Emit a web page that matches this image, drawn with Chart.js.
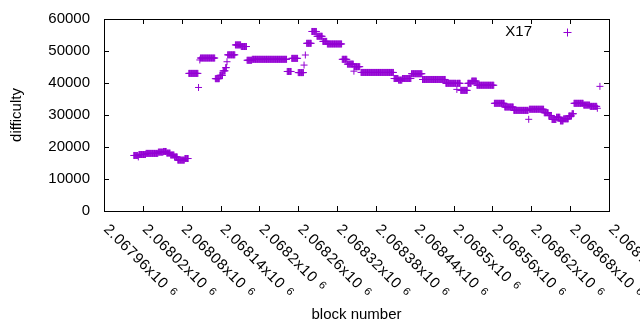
<!DOCTYPE html>
<html>
<head>
<meta charset="utf-8">
<script src="https://cdn.jsdelivr.net/npm/chart.js@4/dist/chart.umd.min.js"></script>
<style>
  html, body { margin: 0; padding: 0; background: #fff; }
</style>
</head>
<body>
<canvas id="chart" width="640" height="330"></canvas>
<script>
const runStart = [2068006, 2068013, 2068014, 2068025, 2068044, 2068052, 2068057, 2068063, 2068069, 2068074,
    2068085, 2068091, 2068106, 2068108, 2068109, 2068132, 2068139, 2068144, 2068148, 2068150,
    2068151, 2068163, 2068172, 2068181, 2068189, 2068243, 2068250, 2068260, 2068269, 2068271,
    2068273, 2068281, 2068289, 2068298, 2068305, 2068328, 2068336, 2068346, 2068347, 2068357,
    2068408, 2068415, 2068421, 2068435, 2068452, 2068488, 2068505, 2068506, 2068511, 2068522,
    2068528, 2068536, 2068563, 2068579, 2068593, 2068616, 2068617, 2068640, 2068647, 2068652,
    2068659, 2068665, 2068670, 2068678, 2068683, 2068686, 2068701, 2068711, 2068722, 2068726];
const runEnd = [2068012, 2068013, 2068024, 2068043, 2068051, 2068056, 2068062, 2068068, 2068073, 2068084,
    2068090, 2068105, 2068106, 2068108, 2068131, 2068138, 2068143, 2068147, 2068149, 2068150,
    2068162, 2068171, 2068180, 2068188, 2068242, 2068249, 2068259, 2068268, 2068269, 2068271,
    2068280, 2068288, 2068297, 2068304, 2068327, 2068335, 2068345, 2068346, 2068355, 2068407,
    2068414, 2068420, 2068434, 2068451, 2068487, 2068504, 2068505, 2068510, 2068521, 2068527,
    2068535, 2068562, 2068578, 2068592, 2068615, 2068616, 2068639, 2068646, 2068651, 2068658,
    2068664, 2068669, 2068677, 2068682, 2068685, 2068700, 2068710, 2068721, 2068722, 2068726];
const runValue = [17350, 16900, 17650, 18000, 18400, 18600, 18100, 17500, 16900, 15900,
    16400, 43000, 38600, 47200, 47800, 41350, 42400, 43800, 44800, 46650,
    48800, 51900, 51400, 47100, 47400, 43600, 47700, 43250, 45600, 48750,
    52400, 56100, 54600, 53000, 52200, 47400, 45900, 43700, 45100, 43300,
    41400, 40900, 41400, 42900, 41100, 39900, 38000, 39900, 37700, 39900,
    40600, 39300, 33650, 32500, 31450, 28650, 31800, 30700, 29850, 28600,
    29300, 28150, 28800, 29700, 30400, 33650, 33100, 32700, 32100, 38950];

const xTicks = [2067960, 2068020, 2068080, 2068140, 2068200, 2068260, 2068320,
    2068380, 2068440, 2068500, 2068560, 2068620, 2068680, 2068740];
const xTickLabels = ['2.06796', '2.06802', '2.06808', '2.06814', '2.0682', '2.06826', '2.06832',
    '2.06838', '2.06844', '2.0685', '2.06856', '2.06862', '2.06868', '2.06874'];
const yTicks = [0, 10000, 20000, 30000, 40000, 50000, 60000];
const seriesName = 'X17';

const points = [];
runStart.forEach((s, i) => {
    for (let b = s; b <= runEnd[i]; b++) points.push({ x: b, y: runValue[i] });
});

const FONT = '"Liberation Sans", Arial, sans-serif';
const PURPLE = '#9400d3';

const gnuplotFrame = {
    id: 'gnuplotFrame',
    afterDraw(chart) {
        const ctx = chart.ctx;
        const a = chart.chartArea;
        const xs = chart.scales.x, ys = chart.scales.y;
        ctx.save();
        ctx.strokeStyle = '#000';
        ctx.lineWidth = 1;
        ctx.strokeRect(Math.round(a.left) + 0.5, Math.round(a.top) + 0.5,
            Math.round(a.right - a.left), Math.round(a.bottom - a.top));

        // inward tick marks on all four sides
        ctx.beginPath();
        yTicks.forEach(v => {
            const y = Math.round(ys.getPixelForValue(v)) + 0.5;
            ctx.moveTo(a.left, y); ctx.lineTo(a.left + 5, y);
            ctx.moveTo(a.right, y); ctx.lineTo(a.right - 5, y);
        });
        xTicks.forEach(v => {
            const x = Math.round(xs.getPixelForValue(v)) + 0.5;
            ctx.moveTo(x, a.bottom); ctx.lineTo(x, a.bottom - 5);
            ctx.moveTo(x, a.top); ctx.lineTo(x, a.top + 5);
        });
        ctx.stroke();

        // rotated x tick labels
        ctx.fillStyle = '#000';
        ctx.textAlign = 'left';
        ctx.textBaseline = 'alphabetic';
        xTicks.forEach((v, i) => {
            const x = xs.getPixelForValue(v);
            ctx.save();
            ctx.translate(x - 1, a.bottom + 19);
            ctx.rotate(Math.PI / 4);
            ctx.font = '15px ' + FONT;
            ctx.letterSpacing = '0.6px';
            const txt = xTickLabels[i] + 'x10';
            ctx.fillText(txt, 0, 0);
            const w = ctx.measureText(txt).width;
            ctx.font = '11px ' + FONT;
            ctx.fillText('6', w + 6, -3);
            ctx.restore();
        });

        // axis titles
        ctx.font = '15px ' + FONT;
        ctx.textAlign = 'center';
        ctx.textBaseline = 'middle';
        ctx.fillText('block number', (a.left + a.right) / 2, 315);
        ctx.save();
        ctx.translate(17, (a.top + a.bottom) / 2);
        ctx.rotate(-Math.PI / 2);
        ctx.fillText('difficulty', 0, 0);
        ctx.restore();

        // key
        ctx.textAlign = 'right';
        ctx.fillText(seriesName, 532, 32);
        ctx.strokeStyle = PURPLE;
        ctx.beginPath();
        ctx.moveTo(563.5, 32.5); ctx.lineTo(571.5, 32.5);
        ctx.moveTo(567.5, 28.5); ctx.lineTo(567.5, 36.5);
        ctx.stroke();
        ctx.restore();
    }
};

new Chart(document.getElementById('chart'), {
    type: 'scatter',
    data: {
        datasets: [{
            label: seriesName,
            data: points,
            pointStyle: 'cross',
            pointRadius: 3.5,
            pointHoverRadius: 3.5,
            borderColor: PURPLE,
            backgroundColor: PURPLE,
            borderWidth: 1
        }]
    },
    options: {
        responsive: false,
        animation: false,
        devicePixelRatio: 1,
        layout: { padding: { top: 19, right: 31, left: 0, bottom: 0 } },
        plugins: {
            legend: { display: false },
            tooltip: { enabled: false }
        },
        scales: {
            x: {
                type: 'linear',
                min: xTicks[0],
                max: xTicks[xTicks.length - 1],
                grid: { display: false, drawTicks: false },
                border: { display: false },
                ticks: { display: false },
                afterFit(s) { s.height = 119; s.paddingLeft = 0; s.paddingRight = 0; }
            },
            y: {
                min: 0,
                max: 60000,
                grid: { display: false, drawTicks: false },
                border: { display: false },
                ticks: {
                    stepSize: 10000,
                    padding: 14,
                    color: '#000',
                    font: { size: 15, family: FONT },
                    callback: v => String(v)
                },
                afterFit(s) { s.width = 104; s.paddingTop = 0; s.paddingBottom = 0; }
            }
        }
    },
    plugins: [gnuplotFrame]
});
</script>
</body>
</html>
